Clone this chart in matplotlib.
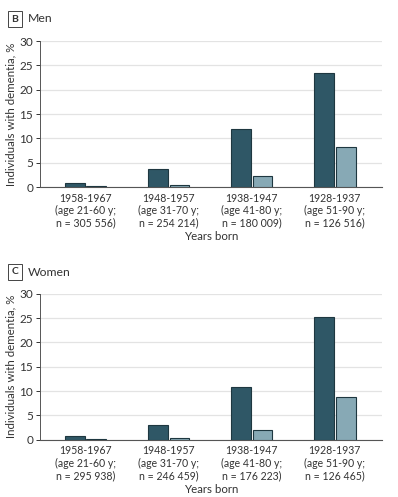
import numpy as np
import matplotlib
matplotlib.use('Agg')
import matplotlib.pyplot as plt

plt.rcParams['font.family'] = ['Lato', 'DejaVu Sans']

categories = ['1958-1967\n(age 21-60 y;\nn = 305 556)',
              '1948-1957\n(age 31-70 y;\nn = 254 214)',
              '1938-1947\n(age 41-80 y;\nn = 180 009)',
              '1928-1937\n(age 51-90 y;\nn = 126 516)']
categories_women = ['1958-1967\n(age 21-60 y;\nn = 295 938)',
                    '1948-1957\n(age 31-70 y;\nn = 246 459)',
                    '1938-1947\n(age 41-80 y;\nn = 176 223)',
                    '1928-1937\n(age 51-90 y;\nn = 126 465)']
men_dark = [0.8, 3.6, 12.0, 23.5]
men_light = [0.25, 0.4, 2.2, 8.2]
women_dark = [0.7, 3.1, 10.8, 25.3]
women_light = [0.2, 0.3, 2.0, 8.8]

DARK = '#2f5766'
LIGHT = '#87a9b5'
EDGE = '#1e3740'
TXT = '#333333'


def drawPanel(ax, labels, dark, light, letter, title, fig, ytop):
    x = np.arange(len(labels))
    w = 0.24
    ax.bar(x - 0.13, dark, w, color=DARK, edgecolor=EDGE, linewidth=0.8, zorder=3)
    ax.bar(x + 0.13, light, w, color=LIGHT, edgecolor=EDGE, linewidth=0.8, zorder=3)
    ax.set_xlim(-0.55, 3.57)
    ax.set_ylim(0, 30)
    ax.set_yticks(range(0, 31, 5))
    ax.set_xticks(x)
    ax.set_xticklabels(labels, fontsize=7.6, color=TXT, linespacing=1.15)
    ax.tick_params(axis='x', length=0, pad=4)
    ax.tick_params(axis='y', labelsize=8.5, colors=TXT, length=3, width=0.7, direction='out', pad=2)
    ax.yaxis.grid(True, color='#e3e3e3', linewidth=0.9, zorder=0)
    for s in ['top', 'right']:
        ax.spines[s].set_visible(False)
    ax.spines['left'].set_color('#555555')
    ax.spines['left'].set_linewidth(0.7)
    ax.spines['bottom'].set_color('#555555')
    ax.spines['bottom'].set_linewidth(0.8)
    ax.set_ylabel('Individuals with dementia, %', fontsize=8.3, color=TXT)
    ax.yaxis.set_label_coords(-0.068, 0.5)
    ax.set_xlabel('Years born', fontsize=8.3, color=TXT)
    ax.xaxis.set_label_coords(0.5, -0.30)
    fig.text(15 / 398, ytop, letter, fontsize=7.5, fontweight='bold', color=TXT,
             ha='center', va='center',
             bbox=dict(boxstyle='square,pad=0.3', facecolor='white', edgecolor='#444444', linewidth=0.7))
    fig.text(28 / 398, ytop, title, fontsize=8.8, color=TXT, ha='left', va='center')


fig = plt.figure(figsize=(3.98, 4.97), dpi=100)
ax1 = fig.add_axes([0.1005, 0.6237, 0.8595, 0.2938])
ax2 = fig.add_axes([0.1005, 0.1153, 0.8595, 0.2938])
drawPanel(ax1, categories, men_dark, men_light, 'B', 'Men', fig, 1 - 19 / 497)
drawPanel(ax2, categories_women, women_dark, women_light, 'C', 'Women', fig, 1 - 272 / 497)

fig.savefig('out.png', dpi=100)
